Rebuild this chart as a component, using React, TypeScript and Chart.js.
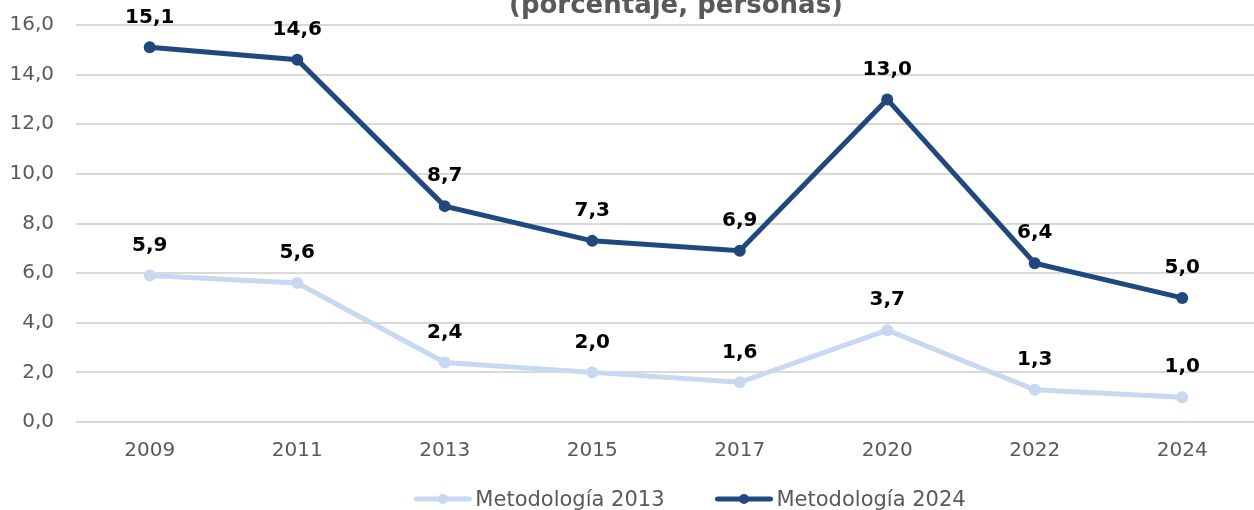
import { useEffect, useRef } from "react";
import { Chart, registerables } from "chart.js";

Chart.register(...registerables);

const categories = ["2009", "2011", "2013", "2015", "2017", "2020", "2022", "2024"];
const metodologia2013 = [5.9, 5.6, 2.4, 2.0, 1.6, 3.7, 1.3, 1.0];
const metodologia2024 = [15.1, 14.6, 8.7, 7.3, 6.9, 13.0, 6.4, 5.0];
const seriesNames = ["Metodología 2013", "Metodología 2024"];
const seriesColors = ["#C6D9F1", "#1F497D"];
const titleText = "(porcentaje, personas)";
const yMin = 0;
const yMax = 16;
const yStep = 2;

const FONT = "'DejaVu Sans', Verdana, sans-serif";
const GRAY = "#595959";

const fmt = (v: number) => v.toFixed(1).replace(".", ",");

const titlePlugin = {
  id: "cutTitle",
  afterDraw(chart: any) {
    const { ctx, chartArea } = chart;
    ctx.save();
    ctx.font = `bold 26px ${FONT}`;
    ctx.fillStyle = GRAY;
    ctx.textAlign = "center";
    ctx.textBaseline = "alphabetic";
    ctx.fillText(titleText, (chartArea.left + chartArea.right) / 2 + 10, 13);
    ctx.restore();
  },
};

const valueLabelPlugin = {
  id: "valueLabels",
  afterDatasetsDraw(chart: any) {
    const { ctx } = chart;
    ctx.save();
    ctx.font = `bold 20px ${FONT}`;
    ctx.fillStyle = "#000000";
    ctx.textAlign = "center";
    ctx.textBaseline = "middle";
    chart.data.datasets.forEach((ds: any, i: number) => {
      const meta = chart.getDatasetMeta(i);
      meta.data.forEach((pt: any, j: number) => {
        ctx.fillText(fmt(ds.data[j]), pt.x, pt.y - 30);
      });
    });
    ctx.restore();
  },
};

const legendPlugin = {
  id: "lineLegend",
  afterDraw(chart: any) {
    const { ctx, chartArea } = chart;
    const sampleW = 57;
    const gapText = 4;
    const gapItems = 51;
    const lineY = 499;
    const baseY = 506;
    ctx.save();
    ctx.font = `21px ${FONT}`;
    const items = chart.data.datasets.map((ds: any) => ({
      label: ds.label,
      color: ds.borderColor,
      w: sampleW + gapText + ctx.measureText(ds.label).width,
    }));
    const total = items.reduce((s: number, it: any) => s + it.w, 0) + gapItems * (items.length - 1);
    let x = (chartArea.left + chartArea.right) / 2 + 24 - total / 2;
    items.forEach((it: any) => {
      ctx.strokeStyle = it.color;
      ctx.lineWidth = 5;
      ctx.lineCap = "round";
      ctx.beginPath();
      ctx.moveTo(x + 2, lineY);
      ctx.lineTo(x + sampleW - 2, lineY);
      ctx.stroke();
      ctx.fillStyle = it.color;
      ctx.beginPath();
      ctx.arc(x + sampleW / 2, lineY, 5, 0, Math.PI * 2);
      ctx.fill();
      ctx.fillStyle = GRAY;
      ctx.textAlign = "left";
      ctx.textBaseline = "alphabetic";
      ctx.fillText(it.label, x + sampleW + gapText, baseY);
      x += it.w + gapItems;
    });
    ctx.restore();
  },
};

export default function App() {
  const ref = useRef<HTMLCanvasElement | null>(null);

  useEffect(() => {
    if (!ref.current) return;
    const seriesData = [metodologia2013, metodologia2024];
    const chart = new Chart(ref.current, {
      type: "line",
      data: {
        labels: categories,
        datasets: seriesData.map((d, i) => ({
          label: seriesNames[i],
          data: d,
          borderColor: seriesColors[i],
          backgroundColor: seriesColors[i],
          borderWidth: 5,
          pointRadius: 6,
          pointHoverRadius: 6,
          pointBackgroundColor: seriesColors[i],
          pointBorderColor: seriesColors[i],
          pointBorderWidth: 0,
          tension: 0,
          fill: false,
        })),
      },
      options: {
        responsive: false,
        animation: false,
        devicePixelRatio: 1,
        layout: { padding: { left: 10, right: 5, top: 25, bottom: 48 } },
        plugins: {
          legend: { display: false },
          title: { display: false },
          tooltip: { enabled: false },
        },
        scales: {
          x: {
            offset: true,
            grid: { display: false, drawTicks: false },
            border: { display: false },
            ticks: {
              color: GRAY,
              font: { family: FONT, size: 20 },
              padding: 17,
              maxRotation: 0,
              autoSkip: false,
            },
            afterFit: (s: any) => {
              s.height = 40;
              s.paddingLeft = 0;
              s.paddingRight = 0;
            },
          },
          y: {
            min: yMin,
            max: yMax,
            grid: { color: "#D9D9D9", lineWidth: 2, drawTicks: false },
            border: { display: false },
            ticks: {
              stepSize: yStep,
              color: GRAY,
              font: { family: FONT, size: 20 },
              padding: 22,
              callback: (v: any) => fmt(Number(v)),
            },
            afterFit: (s: any) => {
              s.width = 66;
              s.paddingTop = 0;
              s.paddingBottom = 0;
            },
          },
        },
      },
      plugins: [titlePlugin, valueLabelPlugin, legendPlugin],
    });
    return () => chart.destroy();
  }, []);

  return (
    <div
      style={{
        position: "fixed",
        left: 0,
        top: 0,
        width: 1254,
        height: 510,
        overflow: "hidden",
        background: "#ffffff",
      }}
    >
      <canvas ref={ref} width={1262} height={510} style={{ display: "block" }} />
    </div>
  );
}
